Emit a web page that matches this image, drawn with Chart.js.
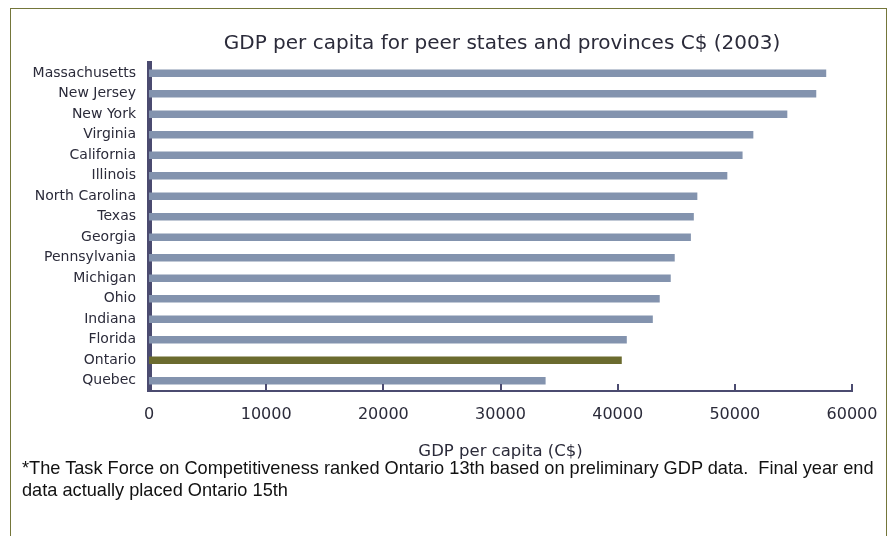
<!DOCTYPE html>
<html>
<head>
<meta charset="utf-8">
<script src="https://cdn.jsdelivr.net/npm/chart.js@4/dist/chart.umd.min.js"></script>
<style>
  html, body { margin: 0; padding: 0; background: #fff; }
  #wrap { position: relative; width: 893px; height: 536px; overflow: hidden; }
  #frame { position: absolute; left: 10px; top: 8px; width: 877px; height: 540px;
           border: 1.5px solid #74763a; box-sizing: border-box; }
  #c { position: absolute; left: 0; top: 0; }
  #title { position: absolute; left: 202px; width: 600px; top: 29px; text-align: center;
           font-family: "DejaVu Sans", sans-serif; font-size: 20px; line-height: 26px; color: #2b2b3a; }
  #note { position: absolute; left: 22px; top: 457px; width: 870px;
          font-family: "Liberation Sans", Arial, sans-serif; font-size: 18.2px;
          line-height: 22px; color: #111; }
</style>
</head>
<body>
<div id="wrap">
  <div id="frame"></div>
  <canvas id="c" width="893" height="536"></canvas>
  <div id="title">GDP per capita for peer states and provinces C$ (2003)</div>
  <div id="note">*The Task Force on Competitiveness ranked Ontario 13th based on preliminary GDP data.&nbsp; Final year end<br>data actually placed Ontario 15th</div>
</div>
<script>
const regions = ['Massachusetts', 'New Jersey', 'New York', 'Virginia', 'California', 'Illinois',
  'North Carolina', 'Texas', 'Georgia', 'Pennsylvania', 'Michigan', 'Ohio', 'Indiana',
  'Florida', 'Ontario', 'Quebec'];
const gdpPerCapita = [57800, 56950, 54480, 51580, 50660, 49360, 46800, 46500, 46250,
  44870, 44530, 43590, 43000, 40780, 40350, 33850];
const xTicks = [0, 10000, 20000, 30000, 40000, 50000, 60000];

const axisColor = '#4b4b70';
const textColor = '#2b2b3a';
const barColors = regions.map(r => r === 'Ontario' ? '#6b6b2e' : '#8393ae');

// small tick marks pointing up from the x axis into the plot
const innerTicks = {
  id: 'innerTicks',
  afterDraw(chart) {
    const x = chart.scales.x;
    const bottom = chart.chartArea.bottom;
    const c = chart.ctx;
    c.save();
    c.strokeStyle = axisColor;
    c.lineWidth = 2;
    xTicks.forEach(v => {
      if (v === 0) return;
      const px = Math.round(x.getPixelForValue(v));
      c.beginPath();
      c.moveTo(px, bottom);
      c.lineTo(px, bottom - 7);
      c.stroke();
    });
    c.restore();
  }
};

new Chart(document.getElementById('c').getContext('2d'), {
  type: 'bar',
  data: {
    labels: regions,
    datasets: [{
      data: gdpPerCapita,
      backgroundColor: barColors,
      categoryPercentage: 0.36,
      barPercentage: 1
    }]
  },
  options: {
    indexAxis: 'y',
    responsive: false,
    animation: false,
    layout: { padding: { left: 0, right: 41, top: 63, bottom: 70 } },
    plugins: {
      legend: { display: false },
      tooltip: { enabled: false },
      title: { display: false }
    },
    scales: {
      x: {
        min: 0,
        max: 60000,
        afterBuildTicks: scale => { scale.ticks = xTicks.map(v => ({ value: v })); },
        afterFit: scale => { scale.height = 75; },
        grid: { display: false, drawTicks: false },
        border: { display: true, color: axisColor, width: 2 },
        ticks: {
          color: textColor,
          padding: 14,
          maxRotation: 0,
          callback: v => String(v),
          font: { family: 'DejaVu Sans', size: 16 }
        },
        title: {
          display: true,
          text: 'GDP per capita (C$)',
          color: textColor,
          font: { family: 'DejaVu Sans', size: 16.5 },
          padding: { top: 4, bottom: 4 }
        }
      },
      y: {
        afterFit: scale => { scale.width = 149; },
        grid: { display: false, drawTicks: false },
        border: { display: true, color: axisColor, width: 5 },
        ticks: {
          color: textColor,
          padding: 13,
          autoSkip: false,
          font: { family: 'DejaVu Sans', size: 14 }
        }
      }
    }
  },
  plugins: [innerTicks]
});
</script>
</body>
</html>
